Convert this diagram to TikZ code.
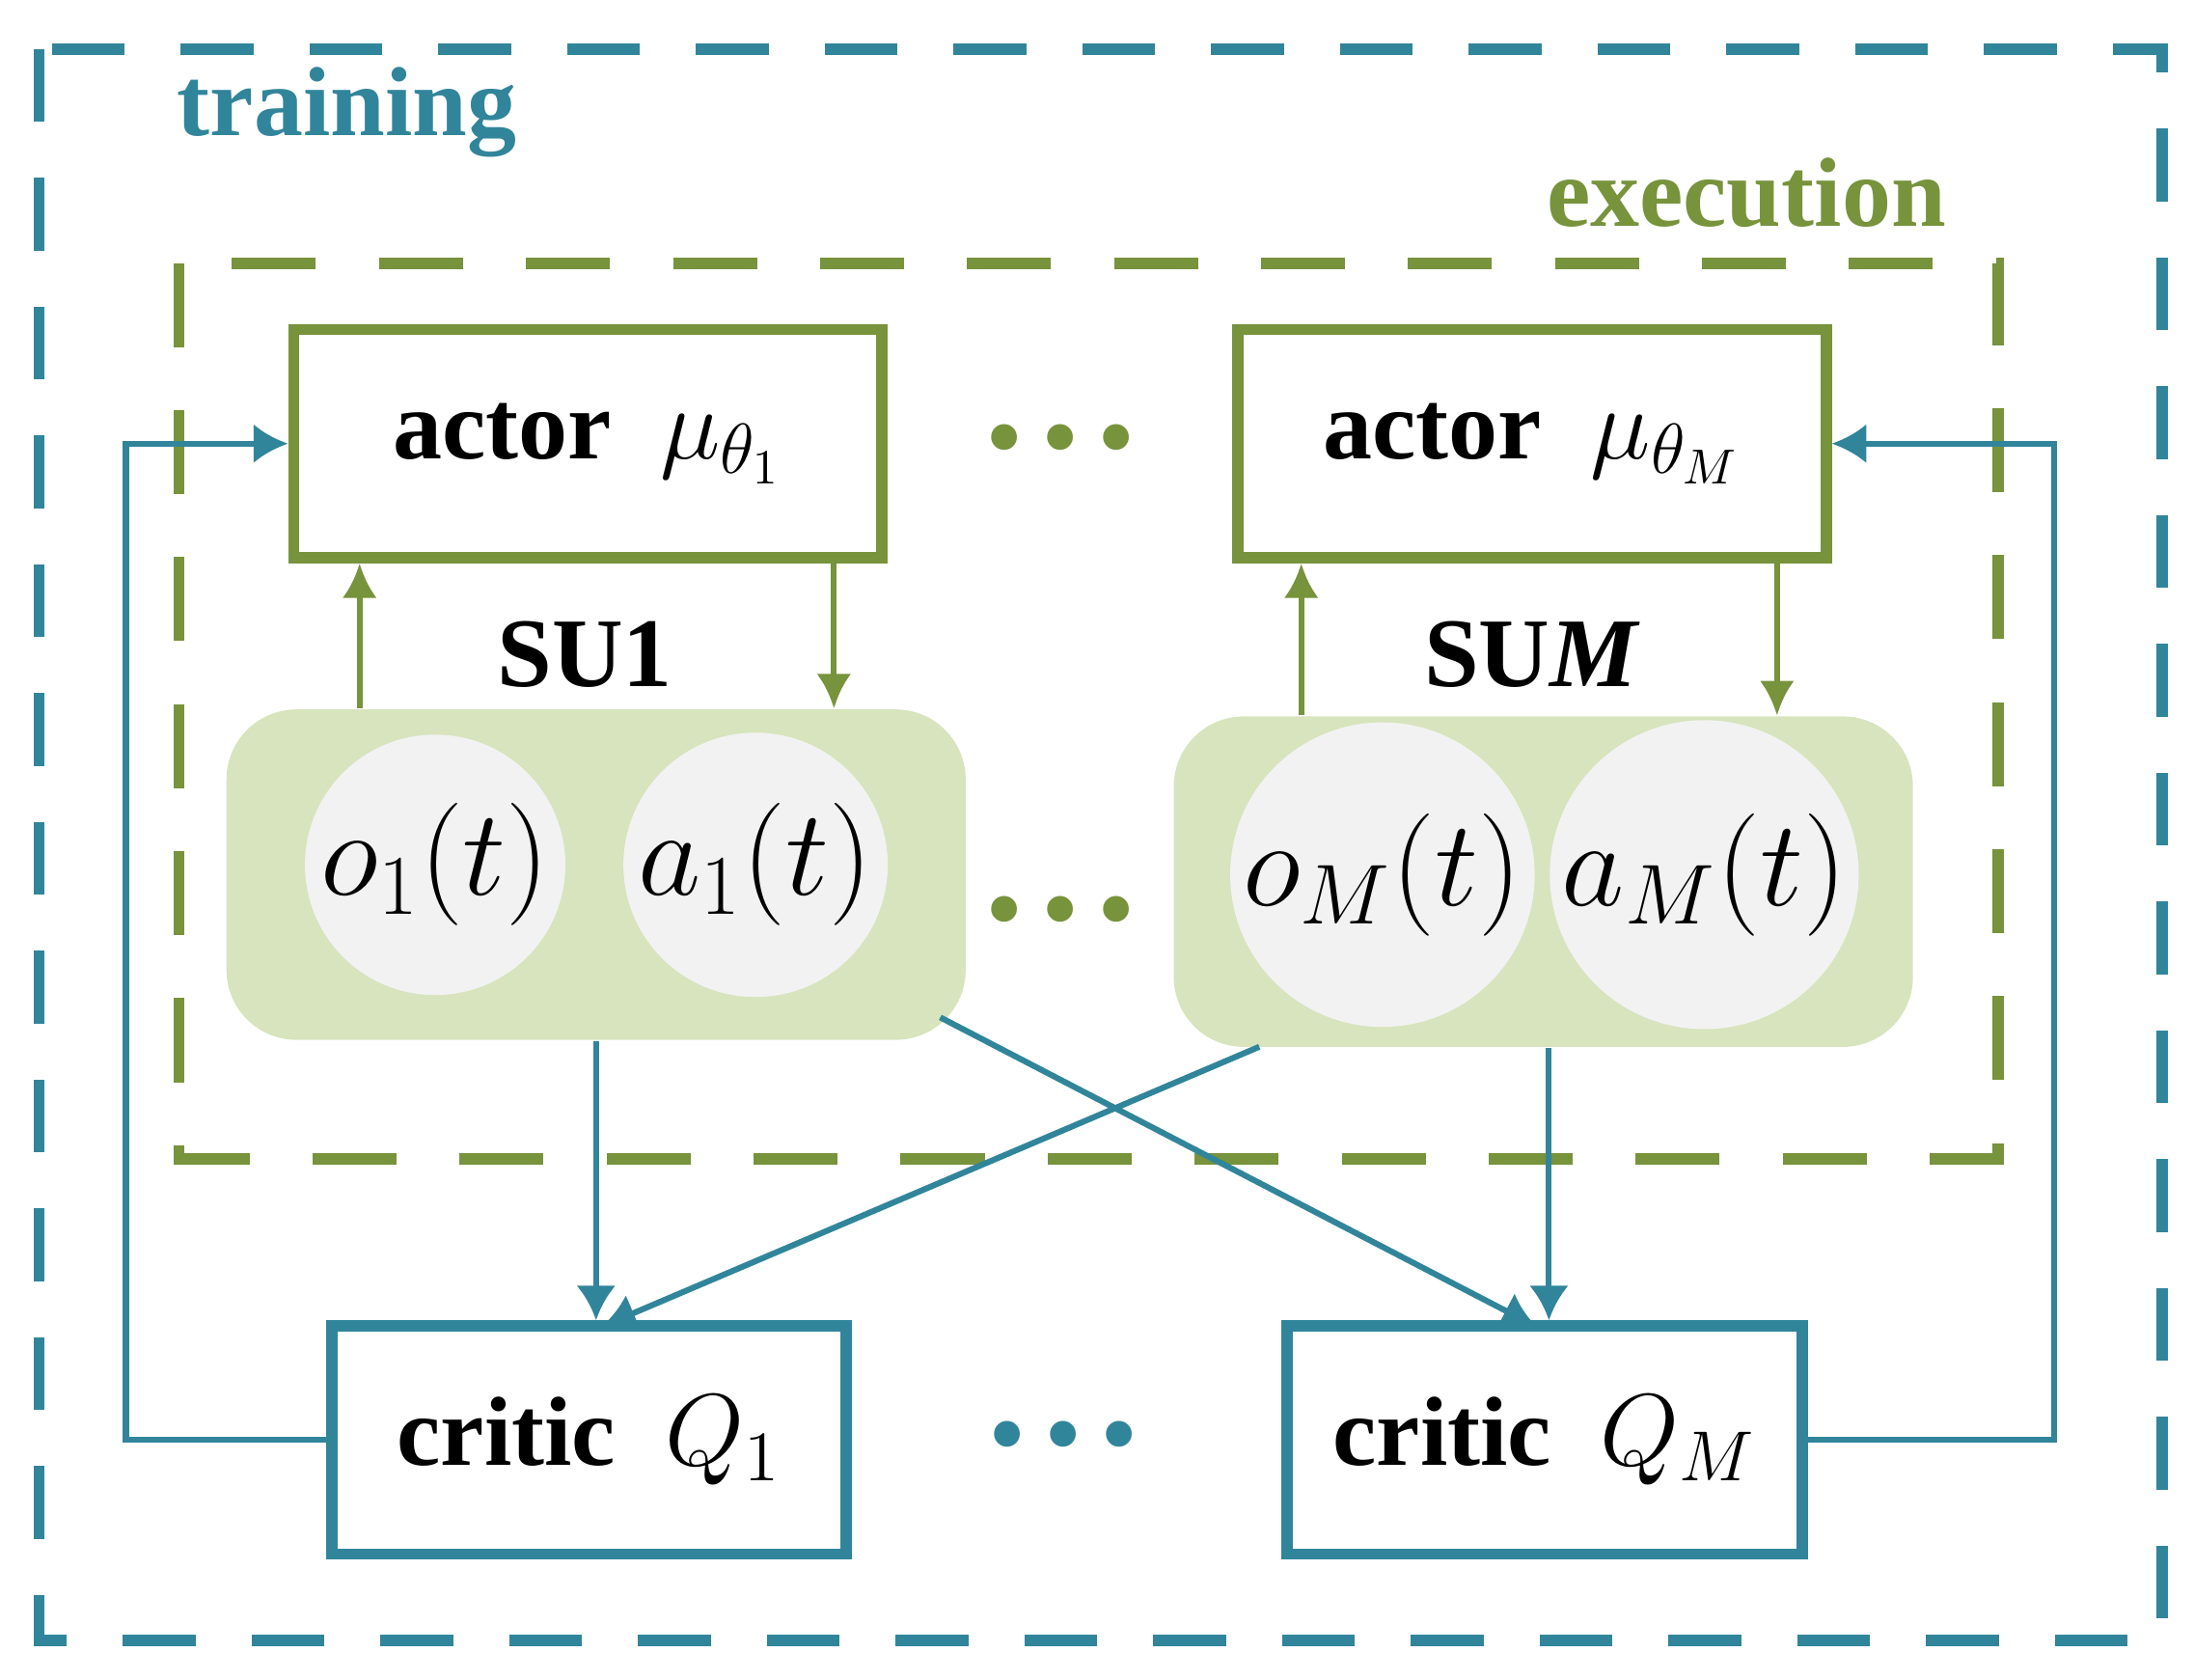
\documentclass[tikz,border=0pt]{standalone}
\usepackage{amsmath}
\usepackage{fontspec}
\setmainfont{Liberation Serif}
\usetikzlibrary{arrows.meta,calc}
\definecolor{teal1}{RGB}{49,133,155}
\definecolor{olive1}{RGB}{119,147,60}
\definecolor{sufill}{RGB}{215,228,189}
\definecolor{circfill}{RGB}{242,242,242}
\tikzset{
  box/.style={draw, line width=2.3pt, minimum width=4.2cm, minimum height=1.63cm, inner sep=0pt, font=\fontsize{20}{24}\selectfont\bfseries},
  su/.style={fill=sufill, rounded corners=0.5cm, minimum width=5.28cm, minimum height=2.36cm},
  var/.style={circle, fill=circfill, minimum size=1.86cm, inner sep=0pt, font=\fontsize{25}{29}\selectfont},
  garrow/.style={olive1, line width=1.2pt, -{Latex[length=7pt,width=7pt]}},
  barrow/.style={teal1, line width=1.2pt, -{Latex[length=7pt,width=8pt]}},
  dots/.style={font=\fontsize{22}{22}\selectfont},
}
\begin{document}
\begin{tikzpicture}[x=0.01cm,y=-0.01cm]
        \useasboundingbox (0,0) rectangle (1568,1200);
        % frames
        \draw[teal1, line width=2.3pt, dash pattern=on 0.52cm off 0.4cm] (28,35) rectangle (1545,1172);
        \node[teal1, font=\fontsize{20}{24}\selectfont\bfseries] (train) at (248,80) {training};
        \draw[olive1, line width=2.3pt, dash pattern=on 0.6cm off 0.45cm] (128,188) rectangle (1428,828);
        \node[olive1, font=\fontsize{20}{24}\selectfont\bfseries] (exec) at (1248,138) {execution};

        % actors
        \node[box, olive1, text=black] (act1) at (420,317) {actor\enspace$\mu_{\theta_1}$};
        \node[box, olive1, text=black] (actM) at (1095,317) {actor\enspace$\mu_{\theta_M}$};
        \node[dots, olive1] (dots1) at (758,321) {\textbullet\,\textbullet\,\textbullet};

        % signal units
        \node[su] (su1) at (426,625) {};
        \node[su] (suM) at (1103,630) {};
        \node[var] (o1) at (311,618) {$o_1(t)$};
        \node[var] (a1) at (540,618) {$a_1(t)$};
        \node[var] (oM) at (988,625) {$o_M(t)$};
        \node[var] (aM) at (1218,625) {$a_M(t)$};
        \node[font=\fontsize{20}{24}\selectfont\bfseries] (lab1) at (418,468) {SU1};
        \node[font=\fontsize{20}{24}\selectfont\bfseries] (labM) at (1095,468) {SU\textit{M}};
        \node[dots, olive1] (dots2) at (758,658) {\textbullet\,\textbullet\,\textbullet};

        % critics
        \node[box, teal1, text=black, minimum width=3.67cm] (cri1) at (421,1029) {critic\enspace$Q_1$};
        \node[box, teal1, text=black, minimum width=3.68cm] (criM) at (1104,1029) {critic\enspace$Q_M$};
        \node[dots, teal1] (dots3) at (760,1033) {\textbullet\,\textbullet\,\textbullet};

        % actor <-> SU
        \draw[garrow] (su1.north -| 257,0) -- (act1.south -| 257,0);
        \draw[garrow] (act1.south -| 596,0) -- (su1.north -| 596,0);
        \draw[garrow] (suM.north -| 930,0) -- (actM.south -| 930,0);
        \draw[garrow] (actM.south -| 1270,0) -- (suM.north -| 1270,0);

        % SU -> critics
        \draw[barrow] (su1.south -| 426,0) -- (cri1.north -| 426,0);
        \draw[barrow] (suM.south -| 1107,0) -- (criM.north -| 1107,0);
        \draw[barrow] (672,727) -- (1098,948);
        \draw[barrow] (900,748) -- (430,948);

        % critic feedback
        \draw[barrow] (cri1.west) -- (90,1029) -- (90,317) -- (act1.west);
        \draw[barrow] (criM.east) -- (1468,1029) -- (1468,317) -- (actM.east);
\end{tikzpicture}
\end{document}
